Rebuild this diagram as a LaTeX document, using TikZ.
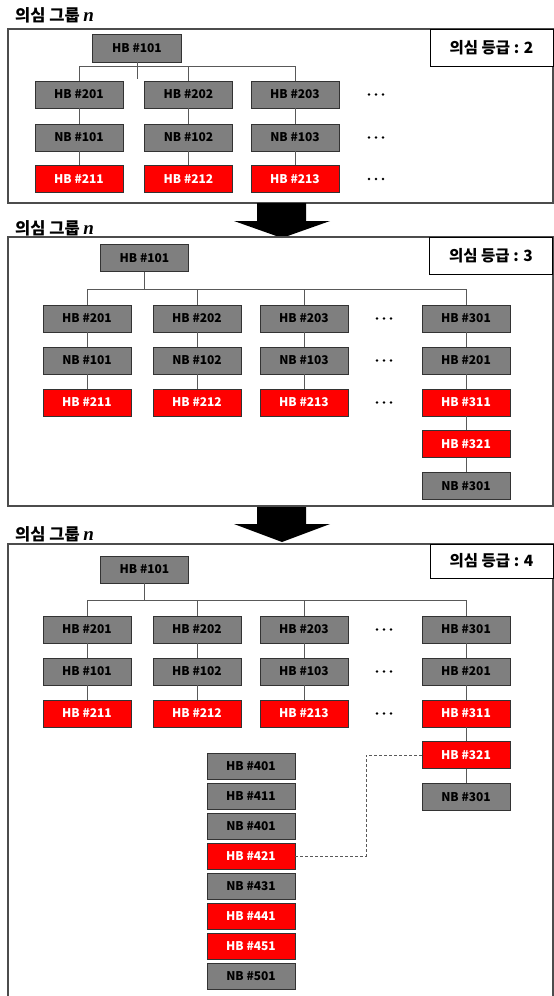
\documentclass[tikz,border=0pt]{standalone}
\usepackage{fontspec}
\setmainfont{Noto Sans CJK KR}
\newfontfamily\nfont{Liberation Serif}
\definecolor{boxgray}{HTML}{7F7F7F}
\definecolor{boxred}{HTML}{FF0000}
\newcommand{\grpn}{{\nfont\bfseries\itshape\fontsize{19}{20}\selectfont n}}
\begin{document}
\begin{tikzpicture}[x=1pt,y=-1pt,
  gbox/.style={draw=black!80,line width=0.8pt,fill=boxgray,minimum width=88pt,minimum height=27pt,inner sep=0pt,font=\fontsize{12}{13}\selectfont\bfseries,text=black},
  rbox/.style={gbox,fill=boxred,text=white},
  sbox/.style={gbox,minimum height=26pt},
  srbox/.style={sbox,fill=boxred,text=white},
  conn/.style={draw=black!65,line width=0.9pt},
  dconn/.style={conn,dash pattern=on 3pt off 2pt},
  frame/.style={draw=black!70,line width=1.1pt},
  lbl/.style={draw=black,line width=0.9pt,fill=white,minimum width=123pt,inner sep=0pt,font=\fontsize{15.5}{16}\selectfont\bfseries},
  ttl/.style={anchor=west,inner sep=0pt,font=\fontsize{16.5}{17}\selectfont\bfseries},
  bigarrow/.style={fill=black},
  dot/.style={fill=black,circle,inner sep=0pt,minimum size=2.6pt}]
\useasboundingbox (0,0) rectangle (554,996);

% ---------- Panel 1 ----------
\node[ttl] (T1) at (15,15) {의심 그룹 \grpn};
\draw[frame] (8,29) rectangle (553,203);
\node[lbl,minimum height=37pt] (L1) at (491.5,47.5) {의심 등급 : 2};
\node[gbox,minimum width=89pt,minimum height=28pt] (R1) at (137,48) {HB \#101};
\foreach \x/\c in {79/1,188.5/2,295/3} {
  \node[gbox] (A\c a) at (\x,94.5) {HB \#20\c};
  \node[gbox] (A\c b) at (\x,137.5) {NB \#10\c};
  \node[rbox] (A\c c) at (\x,179) {HB \#21\c};
  \draw[conn] (A\c a) -- (A\c b) -- (A\c c);
}
\coordinate (B1) at (0,66);
\draw[conn] (A1a.north) -- (A1a.north |- B1) -- (A3a.north |- B1) -- (A3a.north);
\draw[conn] (A2a.north) -- (A2a.north |- B1);
\draw[conn] (R1.south) -- ++(0,17);
\foreach \y/\r in {94.5/a,137.5/b,179/c} {
  \node[dot] (D1\r1) at (369,\y) {};
  \node[dot] (D1\r2) at (376,\y) {};
  \node[dot] (D1\r3) at (383,\y) {};
}

% arrow 1
\fill[bigarrow] (257,203) -- (306,203) -- (306,221) -- (330,221) -- (282,238) -- (234,221) -- (257,221) -- cycle;

% ---------- Panel 2 ----------
\node[ttl] (T2) at (15,228) {의심 그룹 \grpn};
\draw[frame] (8,237) rectangle (553,506);
\node[lbl,minimum height=37pt] (L2) at (491,255.5) {의심 등급 : 3};
\node[gbox] (R2) at (144.5,258) {HB \#101};
\foreach \x/\c in {87/1,197/2,304/3} {
  \node[gbox] (P\c a) at (\x,318.5) {HB \#20\c};
  \node[gbox] (P\c b) at (\x,360.5) {NB \#10\c};
  \node[rbox] (P\c c) at (\x,402.5) {HB \#21\c};
  \draw[conn] (P\c a) -- (P\c b) -- (P\c c);
}
\node[gbox] (P4a) at (466,318.5) {HB \#301};
\node[gbox] (P4b) at (466,360.5) {HB \#201};
\node[rbox] (P4c) at (466,402.5) {HB \#311};
\node[rbox] (P4d) at (466,444) {HB \#321};
\node[gbox] (P4e) at (466,486) {NB \#301};
\draw[conn] (P4a) -- (P4b) -- (P4c) -- (P4d) -- (P4e);
\coordinate (B2) at (0,289);
\draw[conn] (R2.south) -- (R2.south |- B2);
\draw[conn] (P1a.north) -- (P1a.north |- B2) -- (P4a.north |- B2) -- (P4a.north);
\draw[conn] (P2a.north) -- (P2a.north |- B2);
\draw[conn] (P3a.north) -- (P3a.north |- B2);
\foreach \y/\r in {318.5/a,360.5/b,402.5/c} {
  \node[dot] (D2\r1) at (377,\y) {};
  \node[dot] (D2\r2) at (384,\y) {};
  \node[dot] (D2\r3) at (391,\y) {};
}

% arrow 2
\fill[bigarrow] (257,507) -- (306,507) -- (306,524) -- (330,524) -- (282,542) -- (234,524) -- (257,524) -- cycle;

% ---------- Panel 3 ----------
\node[ttl] (T3) at (15,534) {의심 그룹 \grpn};
\draw[frame] (8,996) -- (8,544) -- (553,544) -- (553,996);
\node[lbl,minimum height=34pt] (L3) at (491.5,561) {의심 등급 : 4};
\node[gbox] (R3) at (144.5,569.5) {HB \#101};
\foreach \x/\c in {87/1,197/2,304/3} {
  \node[gbox] (Q\c a) at (\x,629.5) {HB \#20\c};
  \node[gbox] (Q\c b) at (\x,671.5) {HB \#10\c};
  \node[rbox] (Q\c c) at (\x,713.5) {HB \#21\c};
  \draw[conn] (Q\c a) -- (Q\c b) -- (Q\c c);
}
\node[gbox] (Q4a) at (466,629.5) {HB \#301};
\node[gbox] (Q4b) at (466,671.5) {HB \#201};
\node[rbox] (Q4c) at (466,713.5) {HB \#311};
\node[rbox] (Q4d) at (466,755) {HB \#321};
\node[gbox] (Q4e) at (466,797) {NB \#301};
\draw[conn] (Q4a) -- (Q4b) -- (Q4c) -- (Q4d) -- (Q4e);
\coordinate (B3) at (0,600);
\draw[conn] (R3.south) -- (R3.south |- B3);
\draw[conn] (Q1a.north) -- (Q1a.north |- B3) -- (Q4a.north |- B3) -- (Q4a.north);
\draw[conn] (Q2a.north) -- (Q2a.north |- B3);
\draw[conn] (Q3a.north) -- (Q3a.north |- B3);
\foreach \y/\r in {629.5/a,671.5/b,713.5/c} {
  \node[dot] (D3\r1) at (377,\y) {};
  \node[dot] (D3\r2) at (384,\y) {};
  \node[dot] (D3\r3) at (391,\y) {};
}
% stack
\node[sbox]  (S1) at (251,766) {HB \#401};
\node[sbox]  (S2) at (251,796) {HB \#411};
\node[sbox]  (S3) at (251,826) {NB \#401};
\node[srbox] (S4) at (251,856) {HB \#421};
\node[sbox]  (S5) at (251,886) {NB \#431};
\node[srbox] (S6) at (251,916) {HB \#441};
\node[srbox] (S7) at (251,946) {HB \#451};
\node[sbox]  (S8) at (251,976) {NB \#501};
\coordinate (J1) at (366,0);
\draw[dconn] (Q4d.west) -- (Q4d.west -| J1) -- (S4.east -| J1) -- (S4.east);
\end{tikzpicture}
\end{document}
